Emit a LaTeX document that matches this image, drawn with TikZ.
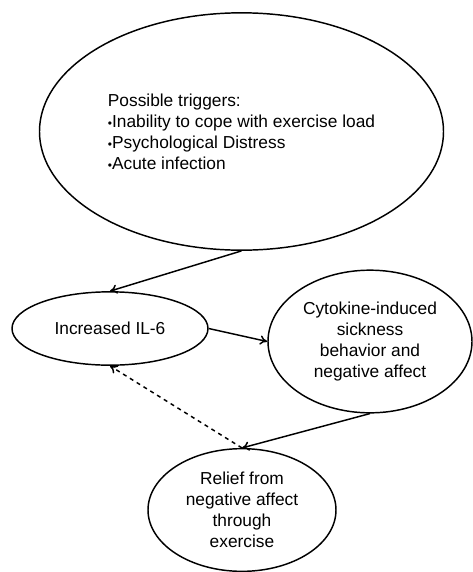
\documentclass[tikz,border=0pt]{standalone}
\usepackage{fontspec}
\setmainfont{Liberation Sans}
\usetikzlibrary{shapes.geometric,arrows.meta}

\begin{document}
\begin{tikzpicture}[x=0.75pt,y=0.75pt,yscale=-1,xscale=1,
	bubble/.style={draw, ellipse, line width=1.1pt, inner sep=0pt, font=\fontsize{13}{15.75}\selectfont},
	link/.style={line width=1.1pt, -{To[length=5.5pt,width=7pt]}}]
	\useasboundingbox (0,0) rectangle (472,572);

	%Shape: Ellipse [triggers]
	\node [bubble, minimum width=303pt, minimum height=178pt, align=left] (triggers) at (241.5,131.5) {Possible triggers:\\ {\small•}Inability to cope with exercise load\\ {\small•}Psychological Distress\\ {\small•}Acute infection};
	%Shape: Ellipse [il6]
	\node [bubble, minimum width=147pt, minimum height=55pt, align=center] (il6) at (110,328.5) {Increased IL-6};
	%Shape: Ellipse [sickness]
	\node [bubble, minimum width=153pt, minimum height=107pt, align=center] (sickness) at (370,341.5) {Cytokine-induced\\ sickness\\ behavior and\\ negative affect};
	%Shape: Ellipse [relief]
	\node [bubble, minimum width=141pt, minimum height=92pt, align=center] (relief) at (242,510) {Relief from\\ negative affect\\ through\\ exercise};

	%Straight Lines
	\draw [link] (triggers.south) -- (il6.north);
	\draw [link] (il6.east) -- (sickness.west);
	\draw [link] (sickness.south) -- (relief.north);
	%Dashed Lines
	\draw [link, dashed] (relief.north) -- (il6.south);

\end{tikzpicture}
\end{document}
